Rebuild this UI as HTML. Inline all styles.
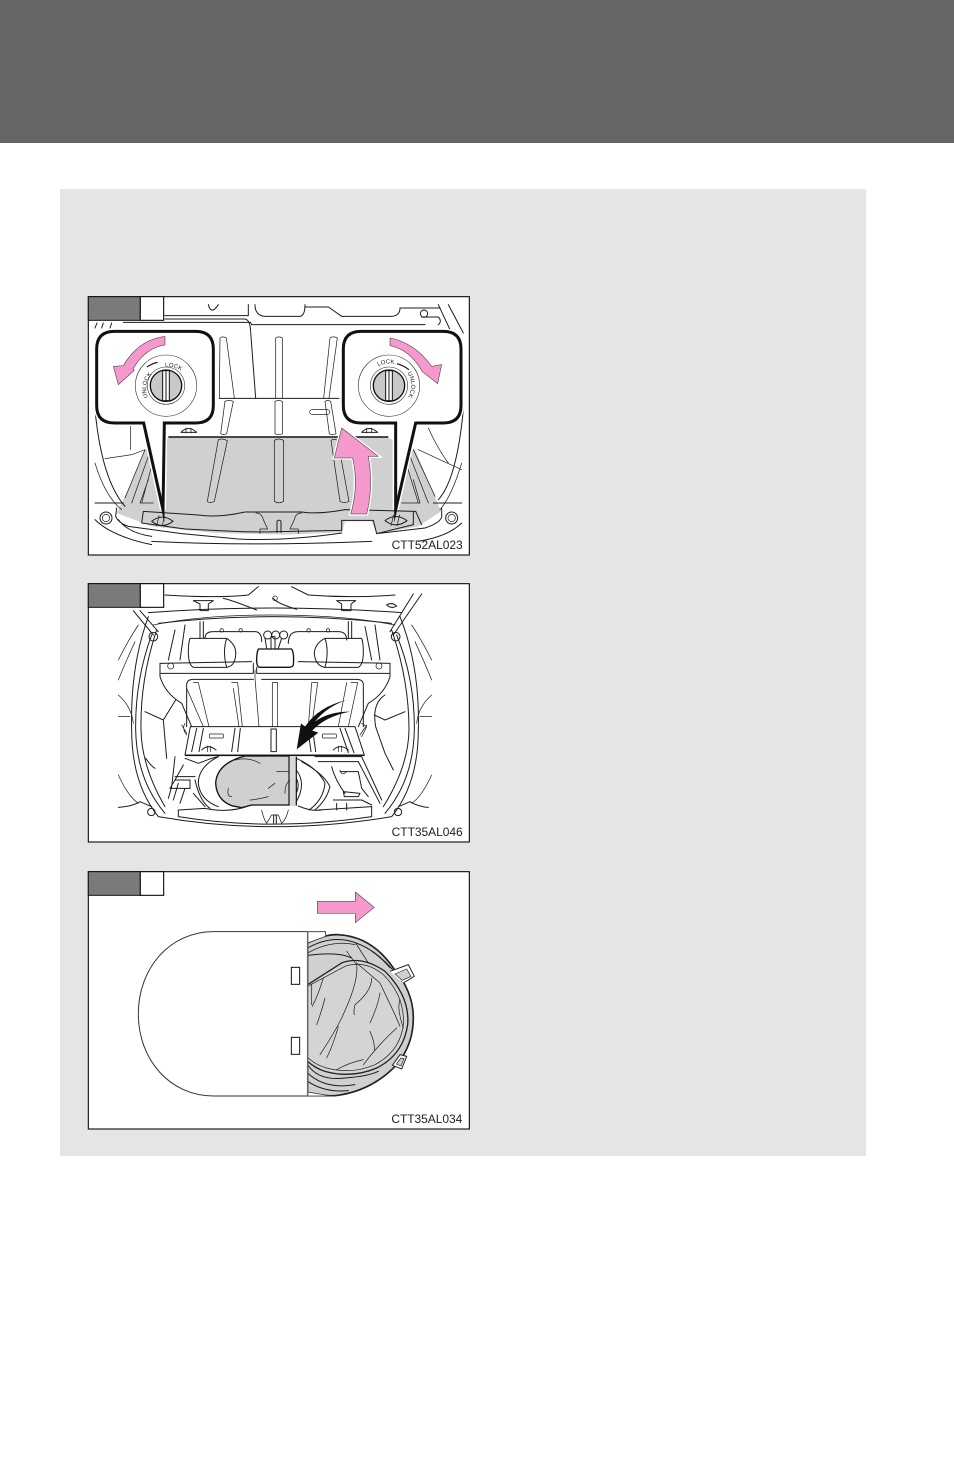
<!DOCTYPE html>
<html><head><meta charset="utf-8"><style>
html,body{margin:0;padding:0;background:#fff}
body{width:954px;height:1474px;overflow:hidden;position:relative}
svg{position:absolute;left:0;top:0}
text{font-family:"Liberation Sans",sans-serif}
.l{fill:none;stroke:#1c1c1c;stroke-width:3;stroke-linecap:round;stroke-linejoin:round}
.t{fill:none;stroke:#222;stroke-width:2.2;stroke-linecap:round;stroke-linejoin:round}
.b{fill:none;stroke:#111;stroke-width:4;stroke-linecap:round;stroke-linejoin:round}
.g{fill:#d0d0d0;stroke:none}
.p{fill:#f598cc;stroke:#333;stroke-width:1.6;stroke-linejoin:round}
.c{font-size:36px;fill:#222}
.k{font-size:18px;fill:#222}
</style></head><body>
<svg width="954" height="1474" viewBox="0 0 954 1474" xmlns="http://www.w3.org/2000/svg">
<rect x="0" y="0" width="954" height="143" fill="#666"/>
<rect x="60" y="189" width="806" height="967" fill="#e5e5e5"/>

<!-- PANEL 1 -->
<g transform="translate(85,293) scale(.33333)">
<rect x="10" y="11" width="1143" height="775" fill="#fff"/>
<path class="g" d="M250,434H908L990,470L1050,610L1068,655L1000,700L875,722L860,685H780L772,718L600,725L390,720L200,700L95,660L120,610L180,470Z"/>
<path class="l" d="M240,68H490V35M240,78H480Q495,80 497,115M1020,95H500Q497,85 490,88H115M370,35Q378,68 400,35M510,35Q510,68 540,70H645Q660,68 660,35M660,42H730L770,70H920Q945,68 945,45H1065M1010,72H1060Q1072,85 1060,95"/>
<path class="l" d="M30,105L36,90M50,105L55,90M75,105L80,90M1090,35L1135,120M1060,35L1095,110"/>
<circle class="l" cx="1017" cy="62" r="11"/>
<path class="l" d="M497,118L512,315"/>
<path class="t" d="M403,315L405,135Q412,128 424,135L448,315M572,315V135Q580,128 592,135V315M716,315L735,135Q745,128 757,135L732,315"/>
<path class="l" d="M403,316H762"/>
<path class="t" d="M420,325L407,422Q415,428 425,422L445,325Q432,320 420,325ZM570,325V422Q580,428 592,422V325Q580,320 570,325ZM720,325L733,422Q742,428 753,422L737,325Q728,320 720,325Z"/>
<rect class="t" x="674" y="350" width="60" height="14" rx="7"/>
<path d="M250,432H910" fill="none" stroke="#111" stroke-width="4.5"/>
<path class="t" d="M400,440L367,625Q375,633 388,625L427,443Q412,435 400,440ZM568,442V625Q580,634 596,625V442Q580,434 568,442ZM738,442L765,625Q778,633 792,625L758,442Q748,436 738,442Z"/>
<path class="l" d="M288,418Q310,395 335,418ZM830,418Q852,395 878,418Z"/>
<path class="t" d="M303,405V420M318,405V420M845,405V420M860,405V420"/>
<path class="t" d="M180,470L120,615M190,490L140,630M170,630L205,500M205,630H165L190,560"/>
<path class="t" d="M985,470L1050,610M975,490L1030,630M1000,630L960,500M950,630H1005L985,560"/>
<path class="l" d="M30,350Q50,560 120,640M30,630H115M1135,350Q1115,560 1060,620M1045,630H1130"/>
<path class="t" d="M137,400V470M60,497L140,485L180,470M1030,405Q1060,470 1090,510M1000,470L1130,530M30,510Q60,610 110,650M1130,510Q1100,610 1065,650"/>
<circle class="l" cx="63" cy="675" r="18"/><circle class="t" cx="63" cy="675" r="11"/>
<circle class="l" cx="1100" cy="675" r="18"/><circle class="t" cx="1100" cy="675" r="11"/>
<path class="l" d="M95,645L92,670Q100,690 130,700L290,722L460,738Q600,745 770,720M175,655L170,690L300,708L450,715Q520,718 580,716L770,712V682H865L875,722L985,695V655M175,655Q250,660 340,666Q400,675 480,657H650Q700,665 780,650L990,655M1070,645V672Q1065,690 1020,705L875,722M992,655L1010,695M100,680Q130,720 200,730M30,680Q80,730 200,755M1130,690Q1090,730 1000,745M200,745Q500,760 860,745"/>
<path class="t" d="M513,660Q530,660 535,680L548,708H525V722M650,660Q632,660 628,680L615,708H640V722"/>
<path class="l" d="M576,718V685Q582,678 588,685V718"/>
<path class="l" d="M200,685Q232,660 264,685Q232,710 200,685ZM900,683Q932,658 966,683Q932,708 900,683Z"/>
<path class="t" d="M222,668L215,698M238,668L232,698M926,666L918,698M944,666L936,698"/>
<!-- large arrow -->
<path d="M770,405L880,490H850Q866,580 845,663H797Q822,580 803,495L748,495Z" fill="#fff" stroke="#fff" stroke-width="10"/>
<path class="p" d="M770,405L880,490H850Q866,580 845,663H797Q822,580 803,495L748,495Z" stroke-width="2"/>
<!-- callouts -->
<path d="M88,115H332Q385,115 385,168V338Q385,390 332,390H238L234,650L176,390H88Q35,390 35,338V168Q35,115 88,115Z" fill="#fff" stroke="#fff" stroke-width="18"/>
<path d="M828,115H1075Q1128,115 1128,168V338Q1128,390 1075,390H992L932,650L932,390H828Q775,390 775,338V168Q775,115 828,115Z" fill="#fff" stroke="#fff" stroke-width="18"/>
<path d="M88,115H332Q385,115 385,168V338Q385,390 332,390H238L234,650L176,390H88Q35,390 35,338V168Q35,115 88,115Z" fill="#fff" stroke="#111" stroke-width="9" stroke-linejoin="miter" stroke-miterlimit="12"/>
<path d="M828,115H1075Q1128,115 1128,168V338Q1128,390 1075,390H992L932,650L932,390H828Q775,390 775,338V168Q775,115 828,115Z" fill="#fff" stroke="#111" stroke-width="9" stroke-linejoin="miter" stroke-miterlimit="12"/>
<!-- lock L -->
<circle cx="243" cy="278" r="92" fill="#fff" stroke="#333" stroke-width="1.8"/>
<circle cx="243" cy="278" r="56" fill="none" stroke="#333" stroke-width="1.8"/>
<circle cx="243" cy="278" r="47" fill="#c8c8c8" stroke="#111" stroke-width="4"/>
<rect x="233" y="233" width="20" height="90" fill="#fff" stroke="#111" stroke-width="3"/>
<path d="M243,233V323" stroke="#111" stroke-width="3"/>
<path id="arcL" d="M190,316A66,66 0 0 1 300,245" fill="none"/>
<text class="k"><textPath href="#arcL" startOffset="3">UNLOCK</textPath></text>
<text class="k"><textPath href="#arcL" startOffset="124">LOCK</textPath></text>
<path d="M186,222Q200,212 218,208" stroke="#111" stroke-width="3.5" fill="none"/>
<!-- lock R -->
<circle cx="912" cy="278" r="92" fill="#fff" stroke="#333" stroke-width="1.8"/>
<circle cx="912" cy="278" r="56" fill="none" stroke="#333" stroke-width="1.8"/>
<circle cx="912" cy="278" r="47" fill="#c8c8c8" stroke="#111" stroke-width="4"/>
<rect x="902" y="233" width="20" height="90" fill="#fff" stroke="#111" stroke-width="3"/>
<path d="M912,233V323" stroke="#111" stroke-width="3"/>
<path id="arcR" d="M880,220A66,66 0 0 1 966,316" fill="none"/>
<text class="k"><textPath href="#arcR" startOffset="0">LOCK</textPath></text>
<text class="k"><textPath href="#arcR" startOffset="98">UNLOCK</textPath></text>
<path d="M936,212Q955,217 972,230" stroke="#111" stroke-width="3.5" fill="none"/>
<!-- pink arcs -->
<path class="p" d="M240,130V156Q180,165 144,228L148,232L100,275L85,220L115,218Q160,140 240,130Z" stroke-width="1"/>
<path class="p" d="M915,135V158Q975,170 1012,236L1058,272L1070,215L1040,220Q990,150 915,135Z" stroke-width="1"/>
<text class="c" x="920" y="768" textLength="213">CTT52AL023</text>
<rect x="10" y="11" width="1143" height="775" fill="none" stroke="#111" stroke-width="3.4"/>
<rect x="10" y="11" width="156" height="71" fill="#7a7a7a" stroke="#111" stroke-width="3"/>
<rect x="166" y="11" width="70" height="71" fill="#fff" stroke="#111" stroke-width="3.4"/>
</g>

<!-- PANEL 2 -->
<g transform="translate(85,580) scale(.33333)">
<rect x="10" y="11" width="1143" height="775" fill="#fff"/>
<path class="l" d="M240,45Q400,55 490,45L520,20M930,45Q800,55 670,45L620,20"/>
<path class="l" d="M325,62H385L370,72V92H345V72ZM755,62H812L798,72V92H770V72ZM415,55Q440,60 515,90M565,55Q575,70 635,88M905,75Q920,65 935,78Q920,88 905,75Z"/>
<circle class="t" cx="570" cy="55" r="7"/>
<path class="l" d="M190,98Q560,70 950,98M220,130Q560,90 920,130"/>
<path class="l" d="M145,92L205,165M165,92L220,155M1010,42L925,165M985,42L915,155"/>
<circle class="l" cx="205" cy="170" r="13"/><circle class="l" cx="932" cy="170" r="13"/>
<path class="l" d="M190,110Q135,260 140,450Q140,610 220,710Q560,770 920,710Q1000,610 1000,450Q1005,260 945,110"/>
<path class="l" d="M200,165Q150,300 152,450Q155,600 240,700M935,165Q990,300 988,450Q985,600 900,700M215,150Q165,300 168,450Q170,560 240,680M920,150Q972,300 972,450Q970,560 895,680"/>
<path class="t" d="M205,135Q350,105 560,105Q780,105 930,135"/>
<path class="t" d="M160,135Q130,180 100,240M150,185Q120,250 100,300M100,345Q140,380 145,430M100,410H135M100,585Q130,650 160,670M980,135Q1010,180 1040,240M990,185Q1020,250 1040,300M1040,345Q1000,380 995,430M1040,410H1005M1040,585Q1010,650 980,670"/>
<path class="l" d="M100,682Q140,680 165,665L200,680M1030,682Q1000,680 975,665L940,680"/>
<circle class="l" cx="199" cy="696" r="11"/><circle class="l" cx="939" cy="696" r="11"/>
<path class="l" d="M345,125V175M355,125V175M790,125V175M800,125V175M270,150L250,240M300,135L285,240M840,140L860,240M870,135L885,240"/>
<path class="l" d="M360,175Q360,155 385,155H510Q530,155 530,185M610,190Q610,155 640,155H760Q785,155 785,180"/>
<circle class="t" cx="410" cy="151" r="5"/><circle class="t" cx="467" cy="151" r="5"/><circle class="t" cx="671" cy="151" r="5"/><circle class="t" cx="729" cy="151" r="5"/>
<circle class="l" cx="548" cy="165" r="12"/><circle class="l" cx="572" cy="165" r="12"/><circle class="l" cx="596" cy="165" r="12"/>
<path class="l" d="M558,205V170H570V205M545,205L540,175M580,205L590,175"/>
<path class="l" d="M315,175H425Q455,195 452,225Q450,258 425,262H325Q310,255 310,215Q310,190 315,175ZM425,175Q412,215 425,262"/>
<path class="l" d="M830,175H720Q690,190 688,220Q690,255 718,262H820Q835,255 835,215Q835,190 830,175ZM720,175Q733,215 720,262"/>
<path class="b" d="M520,207H620Q628,220 625,255Q622,262 610,262H525Q515,262 515,240Q515,218 520,207Z" stroke-width="3.4"/>
<path class="l" d="M225,250L500,245M915,250L640,245M228,280H505V250M915,280H515V262"/>
<path class="l" d="M225,250V290Q240,340 290,370L320,440M915,250V290Q900,340 850,370L820,440"/>
<circle class="t" cx="257" cy="258" r="9"/><circle class="t" cx="882" cy="258" r="9"/>
<path class="t" d="M510,270V295L522,440"/>
<path class="l" d="M305,440V315Q305,298 325,298H505M835,440V315Q835,298 815,298H530"/>
<path class="t" d="M325,308H340L372,440M305,325L355,440M440,308H458L472,440M445,325L462,440M562,308H578V440M562,308V440M680,308H698L680,440M670,440L680,308M798,308H818L790,440M785,308L760,440"/>
<path class="l" d="M180,395L235,420L272,360M235,420L245,535M182,535Q200,560 210,565M960,395L900,420L868,405M900,345Q860,370 872,440L900,520L925,570"/>
<path class="l" d="M316,440H810L838,525H300Z" />
<path d="M300,527H838" stroke="#111" stroke-width="3"/>
<path class="l" d="M335,445L320,515M355,445L342,515M450,445L440,515M466,445L458,515M558,447V515H574V447ZM765,445L790,518M780,445L807,518M672,470L678,515M686,470L692,515"/>
<rect class="t" x="373" y="462" width="42" height="12" rx="2"/><rect class="t" x="712" y="462" width="42" height="12" rx="2"/>
<path class="l" d="M350,510Q370,490 393,510M745,510Q765,490 790,510"/>
<path class="t" d="M368,498V515M376,498V515M760,498V515M770,498V515"/>
<path class="t" d="M290,435L305,460M300,430Q290,445 305,465M830,430L845,440L830,470M845,435Q835,450 825,465"/>
<!-- tire area -->
<path class="l" d="M270,530L260,620L250,655M300,535L340,550L380,535L400,530M295,555L270,600M255,625H315V600H270ZM270,590H330M280,610L265,660M300,625L285,670"/>
<path class="l" d="M400,530Q340,560 340,610Q345,660 400,680M330,600Q345,665 375,685M325,640L360,680"/>
<path class="g" d="M470,528H612V677H490L460,683Q400,670 392,610Q395,550 470,528Z"/>
<path class="b" d="M480,528H610M480,528Q395,550 392,610Q395,660 440,677L470,683L500,675H612" stroke-width="3"/>
<rect x="612" y="528" width="21" height="150" fill="#d8d8d8"/>
<path d="M612,528V677M634,530V677" stroke="#111" stroke-width="3.5"/>
<path class="t" d="M450,540Q490,530 525,550M570,610L550,625M430,625Q425,650 440,650M495,660Q510,660 550,650M575,575H610M615,600Q600,610 600,640"/>
<path class="l" d="M634,535Q700,565 720,610Q715,660 672,690M650,545Q715,580 735,620Q725,660 690,690M634,570Q665,610 634,665M634,595Q645,615 634,640"/>
<path class="l" d="M690,530L830,530L890,660M700,545H820L885,670M740,560Q750,600 780,640M765,575H820L830,625L850,650M745,660H830L860,675M755,670V690M785,670V690M775,635L825,640L820,650L778,650Z"/>
<path class="t" d="M765,570Q770,590 785,575"/>
<path class="l" d="M280,690L360,685M700,690L860,680"/>
<path class="l" d="M280,690V710Q560,755 860,710V680"/>
<path class="t" d="M530,690Q535,715 545,730L560,705H580L590,730Q605,715 610,690"/>
<path class="l" d="M566,730V705H574V730"/>
<path class="l" d="M360,685Q430,700 490,678M640,678Q680,695 710,690"/>
<text class="c" x="920" y="768" textLength="213">CTT35AL046</text>
<rect x="10" y="11" width="1143" height="775" fill="none" stroke="#111" stroke-width="3.4"/>
<!-- black swoosh -->
<path d="M785,360Q700,380 660,440L648,430L635,508L700,458L682,452Q720,410 795,395Q730,395 690,425Q725,380 785,360Z" fill="#111"/>
<rect x="10" y="11" width="156" height="71" fill="#7a7a7a" stroke="#111" stroke-width="3"/>
<rect x="166" y="11" width="70" height="71" fill="#fff" stroke="#111" stroke-width="3.4"/>
</g>

<!-- PANEL 3 -->
<g transform="translate(85,868) scale(.33333)">
<rect x="10" y="11" width="1143" height="772" fill="#fff"/>
<!-- wheel -->
<path d="M668,225Q720,198 760,200Q860,205 925,300Q985,370 985,450Q985,530 935,590Q860,670 750,683H668Z" fill="#d0d0d0" stroke="#222" stroke-width="5"/>
<path d="M668,240Q730,205 790,218Q880,240 950,340" class="l"/>
<path d="M668,255Q740,215 810,230" class="t"/>
<path d="M668,262Q760,250 800,270" class="l"/>
<path d="M668,350L770,285Q830,262 900,310Q975,385 968,470Q955,560 875,600Q800,632 720,610Q690,600 668,580" fill="#d4d4d4" stroke="#222" stroke-width="4"/>
<path d="M668,355L780,295Q840,275 895,320Q960,385 955,470Q945,550 870,590Q800,620 725,600Q690,590 668,568" fill="none" stroke="#222" stroke-width="2.2"/>
<path d="M668,590Q700,640 780,630Q850,625 880,610M668,615Q720,665 810,650M668,640Q720,675 790,668" class="l"/>
<path class="t" d="M785,250Q800,270 815,290Q822,340 770,450Q745,500 705,560M812,225L850,285M860,250Q890,270 915,300M815,285L885,345L930,440L945,475M715,330Q700,380 682,415M720,390Q710,430 695,470M860,330Q860,370 810,410Q805,430 808,440M885,375Q880,410 855,465M945,395Q935,420 955,480M855,490Q870,525 868,545M935,480Q880,530 835,590M760,475Q745,530 725,570M755,605Q790,585 835,575M680,410V350"/>
<!-- tabs -->
<path d="M915,310L970,290L988,325L955,345" fill="#fff" stroke="#222" stroke-width="3"/>
<path d="M930,318L965,303L978,325L952,337Z" fill="#d0d0d0" stroke="#222" stroke-width="2"/>
<path d="M945,560L965,565L950,603L922,592Z" fill="#fff" stroke="#222" stroke-width="3"/>
<path d="M948,570L957,572L948,594L934,588Z" fill="#d0d0d0" stroke="#222" stroke-width="2"/>
<!-- cover -->
<path d="M668,191H722V205L668,225Z" fill="#fff" stroke="#333" stroke-width="2.5"/>
<path d="M668,672L740,684H668Z" fill="#fff" stroke="#333" stroke-width="2.5"/>
<path d="M668,191H385C255,191 160,300 160,438C160,575 255,684 385,684H668Z" fill="#fff"/>
<path d="M668,191H385C255,191 160,300 160,438C160,575 255,684 385,684H668" fill="none" stroke="#333" stroke-width="3"/>
<path d="M668,191V684" stroke="#666" stroke-width="4.5"/>
<rect x="619" y="298" width="25" height="51" fill="#fff" stroke="#111" stroke-width="3"/>
<rect x="619" y="508" width="25" height="51" fill="#fff" stroke="#111" stroke-width="3"/>
<path class="p" d="M697,100H811V72L868,118L811,164V136H697Z" stroke-width="2.4"/>
<text class="c" x="919" y="765" textLength="213">CTT35AL034</text>
<rect x="10" y="11" width="1143" height="772" fill="none" stroke="#111" stroke-width="3.4"/>
<rect x="10" y="11" width="156" height="71" fill="#7a7a7a" stroke="#111" stroke-width="3"/>
<rect x="166" y="11" width="70" height="71" fill="#fff" stroke="#111" stroke-width="3.4"/>
</g>
</svg>
</body></html>
